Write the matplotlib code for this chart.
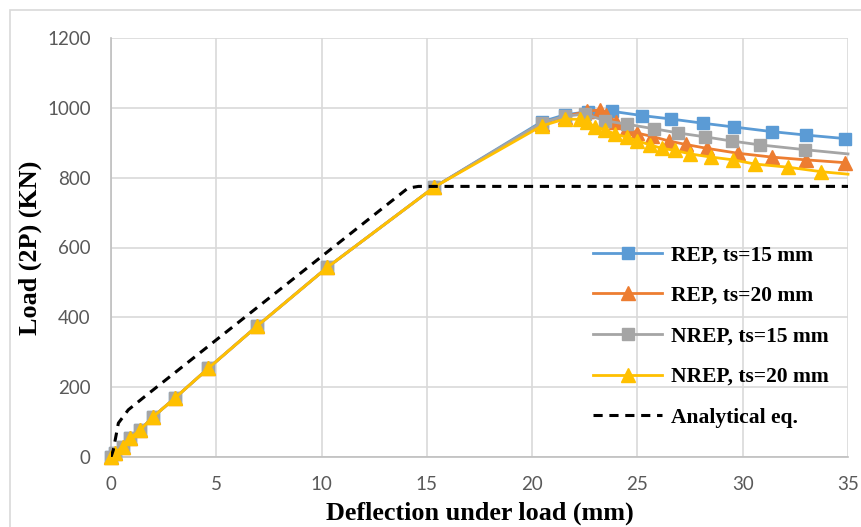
import matplotlib
matplotlib.use("Agg")
import matplotlib.pyplot as plt
from matplotlib.patches import Rectangle

# ---- data ----
pre_x = [0, 0.2, 0.58, 0.9, 1.38, 2.0, 3.04, 4.62, 6.92, 10.27, 15.35, 20.45, 21.55]
pre_y = [0, 12, 30, 54, 77, 115, 169, 254, 374, 543, 773, 955, 972]

rep15_x = pre_x + [22.66, 23.8, 25.2, 26.6, 28.1, 29.6, 31.37, 33.0, 34.85]
rep15_y = pre_y[:-2] + [960, 980, 989, 990, 978, 968, 956, 945, 932, 922, 912]

rep20_x = pre_x + [22.6, 23.2, 23.5, 24.0, 24.5, 24.97, 25.7, 26.5, 27.3, 28.3, 29.76, 31.37, 33.0, 34.85]
rep20_y = pre_y[:-2] + [955, 975, 990, 994, 980, 960, 942, 928, 918, 905, 895, 884, 870, 859, 851, 843]

nrep15_x = pre_x + [22.5, 23.46, 24.5, 25.8, 26.94, 28.2, 29.47, 30.8, 32.97, 35.0]
nrep15_y = pre_y[:-2] + [957, 976, 982, 963, 953, 940, 928, 917, 905, 894, 880, 868]

nrep20_x = pre_x + [22.27, 22.6, 22.98, 23.46, 23.93, 24.5, 24.97, 25.6, 26.15, 26.8, 27.5,
                    28.5, 29.55, 30.58, 32.15, 33.74, 35.0]
nrep20_y = pre_y[:-2] + [948, 968, 967, 958, 946, 937, 925, 916, 906, 894, 884, 878, 868,
                         859, 851, 839, 830, 817, 810]

ana_x = [0, 0.11, 0.35, 0.82, 1.6, 14.1, 14.6, 35]
ana_y = [0, 20, 97, 135, 173, 770, 775, 775]

x_ticks = [0, 5, 10, 15, 20, 25, 30, 35]
y_ticks = [0, 200, 400, 600, 800, 1000, 1200]

labels = ["REP, ts=15 mm", "REP, ts=20 mm", "NREP, ts=15 mm", "NREP, ts=20 mm", "Analytical eq."]
colors = ["#5B9BD5", "#ED7D31", "#A5A5A5", "#FFC000"]

# ---- figure ----
fig = plt.figure(figsize=(8.62, 5.27), dpi=100)
fig.patches.append(Rectangle((10 / 862, -0.1), 1.0, 1 - 10 / 527 + 0.1, transform=fig.transFigure,
                             fill=False, edgecolor="#D9D9D9", linewidth=1.2, zorder=0))
ax = fig.add_axes([111 / 862, (527 - 457) / 527, 737 / 862, 419 / 527])

ax.plot(rep15_x, rep15_y, color=colors[0], lw=2.0, marker="s", ms=8.5, label=labels[0], zorder=3,
        clip_on=False)
ax.plot(rep20_x, rep20_y, color=colors[1], lw=2.0, marker="^", ms=9.5, label=labels[1], zorder=4,
        clip_on=False)
ax.plot(nrep15_x, nrep15_y, color=colors[2], lw=2.0, marker="s", ms=8.5, label=labels[2], zorder=5,
        markevery=list(range(len(nrep15_x) - 1)), clip_on=False)
ax.plot(nrep20_x, nrep20_y, color=colors[3], lw=2.0, marker="^", ms=9.5, label=labels[3], zorder=6,
        markevery=list(range(len(nrep20_x) - 1)), clip_on=False)
ax.plot(ana_x, ana_y, color="black", lw=2.2, ls=(0, (3, 2.2)), label=labels[4], zorder=7)

ax.set_xlim(0, 35)
ax.set_ylim(0, 1200)
ax.set_xticks(x_ticks)
ax.set_yticks(y_ticks)
ax.grid(True, color="#D9D9D9", lw=1.2)
ax.set_axisbelow(True)
for s in ["top", "right"]:
    ax.spines[s].set_visible(False)
for s in ["left", "bottom"]:
    ax.spines[s].set_color("#BFBFBF")
    ax.spines[s].set_linewidth(1.2)
ax.tick_params(length=0, labelsize=13.5, labelcolor="#595959")
ax.tick_params(axis="y", pad=14.5)
ax.tick_params(axis="x", pad=13.5)
for lab in ax.get_xticklabels() + ax.get_yticklabels():
    lab.set_family("Lato")

ax.set_xlabel("Deflection under load (mm)", family="Liberation Serif", fontweight="bold",
              fontsize=18.8, labelpad=6)
ax.set_ylabel("Load (2P) (KN)", family="Liberation Serif", fontweight="bold",
              fontsize=18.8, labelpad=4)

leg = ax.legend(loc="lower right", bbox_to_anchor=(1.0, 0.024), frameon=False,
                prop={"family": "Liberation Serif", "weight": "bold", "size": 15.5},
                handlelength=3.2, labelspacing=0.95, handletextpad=0.4)

fig.savefig("out.png", dpi=100)
